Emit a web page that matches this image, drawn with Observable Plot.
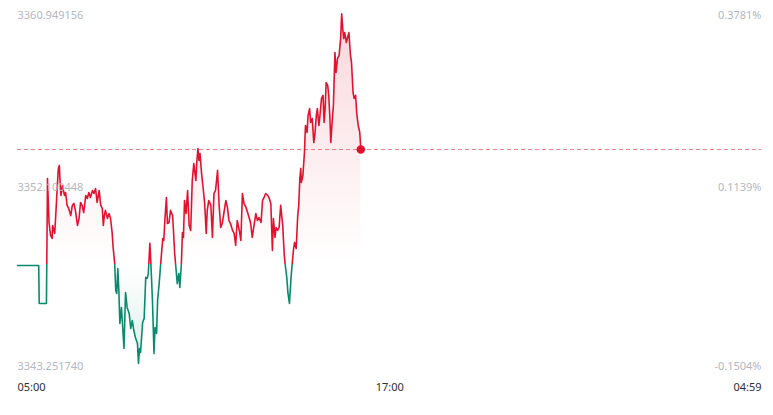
<!DOCTYPE html>
<html>
<head>
<meta charset="utf-8">
<script src="https://cdn.jsdelivr.net/npm/d3@7"></script>
<script src="https://cdn.jsdelivr.net/npm/@observablehq/plot@0.6"></script>
<style>
  html, body { margin: 0; padding: 0; background: #fff; }
  #chart { width: 773px; height: 415px; }
</style>
</head>
<body>
<div id="chart"></div>
<script>
// ---- data ----
const times = ["05:00","05:41","05:42","05:56","05:58","06:01","06:04","06:07","06:08","06:12","06:15","06:17","06:19","06:21","06:22","06:24","06:27","06:28","06:31","06:33","06:36","06:39","06:43","06:46","06:49","06:52","06:56","06:59","07:02","07:05","07:08","07:12","07:15","07:18","07:21","07:25","07:28","07:31","07:34","07:38","07:41","07:44","07:46","07:48","07:50","07:54","07:57","08:00","08:03","08:05","08:08","08:10","08:12","08:14","08:16","08:18","08:21","08:23","08:26","08:29","08:32","08:36","08:39","08:42","08:45","08:48","08:52","08:54","08:56","08:58","09:02","09:05","09:08","09:11","09:13","09:16","09:18","09:21","09:24","09:26","09:29","09:31","09:34","09:37","09:39","09:41","09:43","09:45","09:48","09:50","09:53","09:56","10:00","10:02","10:04","10:06","10:09","10:12","10:14","10:17","10:19","10:21","10:23","10:26","10:29","10:32","10:35","10:38","10:41","10:45","10:47","10:49","10:51","10:53","10:56","10:59","11:02","11:05","11:07","11:10","11:14","11:17","11:20","11:23","11:27","11:30","11:33","11:36","11:40","11:43","11:46","11:49","11:52","11:56","11:59","12:02","12:05","12:09","12:12","12:15","12:18","12:22","12:25","12:28","12:31","12:34","12:38","12:41","12:44","12:47","12:51","12:54","12:57","13:00","13:04","13:07","13:10","13:13","13:15","13:18","13:20","13:23","13:26","13:29","13:33","13:36","13:38","13:41","13:43","13:46","13:49","13:51","13:54","13:56","13:59","14:02","14:04","14:06","14:08","14:09","14:12","14:15","14:17","14:20","14:22","14:25","14:27","14:30","14:33","14:35","14:38","14:40","14:43","14:45","14:48","14:51","14:53","14:55","14:57","15:00","15:02","15:04","15:06","15:09","15:11","15:14","15:16","15:19","15:22","15:25","15:27","15:29","15:31","15:33","15:36","15:38","15:41","15:44","15:46","15:49","15:51","15:54","15:56","15:59","16:02","16:04"];

const prices = [3348.28,3348.28,3346.37,3346.37,3352.65,3350.44,3349.79,3349.64,3350.29,3349.89,
3351.30,3352.30,3353.16,3353.31,3352.65,3351.80,3352.30,3352.15,3351.80,3351.95,
3351.30,3351.15,3350.79,3351.30,3351.40,3351.05,3350.29,3350.64,3351.45,3351.30,
3350.94,3351.80,3351.65,3351.95,3351.70,3352.05,3351.90,3352.15,3351.45,3352.05,
3351.30,3351.15,3350.29,3350.79,3351.05,3350.64,3350.89,3350.64,3349.94,3349.18,
3348.38,3347.02,3346.87,3348.13,3347.02,3345.36,3346.17,3345.36,3344.11,3346.92,
3346.17,3345.87,3345.11,3345.51,3345.01,3344.66,3344.36,3343.35,3344.11,3343.91,
3345.41,3345.62,3347.68,3347.63,3347.88,3349.39,3348.38,3346.52,3343.86,3345.16,
3344.86,3346.52,3347.37,3348.38,3349.03,3349.64,3349.54,3350.54,3351.70,3350.39,
3350.44,3351.05,3350.79,3349.89,3348.88,3348.28,3347.37,3347.88,3347.17,3348.38,
3349.94,3349.69,3351.55,3350.89,3352.05,3350.29,3350.04,3352.55,3353.41,3352.55,
3353.56,3354.16,3353.56,3353.91,3352.91,3352.20,3351.40,3349.89,3351.05,3351.55,
3351.30,3349.69,3351.90,3352.05,3353.06,3351.30,3350.19,3350.39,3351.05,3351.55,
3351.20,3350.54,3350.39,3350.04,3349.89,3349.29,3350.54,3350.04,3349.54,3351.90,
3351.40,3351.20,3350.94,3350.69,3350.39,3349.69,3350.39,3350.89,3350.54,3350.69,
3350.44,3351.55,3351.70,3351.90,3351.80,3351.65,3351.40,3349.03,3350.64,3349.69,
3350.19,3350.04,3350.19,3351.30,3350.29,3348.78,3348.28,3347.63,3346.92,3346.37,
3347.63,3348.28,3349.13,3349.44,3349.13,3350.79,3351.30,3352.65,3353.16,3352.45,
3352.80,3353.96,3355.32,3354.97,3355.82,3356.17,3355.47,3355.67,3354.46,3354.82,
3355.82,3356.17,3355.32,3355.82,3356.68,3356.83,3355.47,3356.17,3357.48,3357.33,
3356.83,3355.82,3354.46,3355.67,3356.32,3358.99,3357.98,3358.69,3358.84,3359.69,
3360.94,3360.20,3359.69,3359.99,3359.49,3359.69,3359.99,3358.84,3358.49,3356.98,
3356.68,3356.83,3355.97,3355.32,3354.97,3354.11];

const prevClose = 3348.289;
const yTickLabels = ["3360.949156", "3352.100448", "3343.251740"];
const pctTickLabels = ["0.3781%", "0.1139%", "-0.1504%"];
const xTickLabels = ["05:00", "17:00", "04:59"];
const sessionStart = "05:00";
const sessionEnd = "04:59"; // next day

// ---- helpers ----
function toDate(hhmm, nextDay) {
  const [h, m] = hhmm.split(":").map(Number);
  return new Date(Date.UTC(2024, 0, nextDay ? 2 : 1, h, m));
}
const n = Math.min(times.length, prices.length);
const data = d3.range(n).map(i => ({ t: toDate(times[i]), p: prices[i] }));
const last = data[data.length - 1];
const t0 = toDate(sessionStart), t1 = toDate(sessionEnd, true);
const xTicks = [t0, toDate(xTickLabels[1]), t1];
const yTicks = yTickLabels.map(Number);

const RED = "#e0132f", GREEN = "#0a8a6c";
const FONT = "'Noto Sans', sans-serif";
const FS = 11;
const LABEL_GRAY = "#b3b7bf";
const DARK = "#2a2e36";

const yLabelDy = [2, -2, 0.5];
const xAnchors = ["start", "middle", "end"];

const yLabelMarks = yTicks.flatMap((v, i) => [
  Plot.text([{ v, label: yTickLabels[i] }], { x: t0, y: "v", text: "label", textAnchor: "start", dy: yLabelDy[i], fill: LABEL_GRAY, fontSize: FS }),
  Plot.text([{ v, label: pctTickLabels[i] }], { x: t1, y: "v", text: "label", textAnchor: "end", dy: yLabelDy[i], fill: LABEL_GRAY, fontSize: FS })
]);
const xLabelMarks = xTicks.map((t, i) =>
  Plot.text([{ t, label: xTickLabels[i] }], { x: "t", y: yTicks[2], text: "label", textAnchor: xAnchors[i], lineAnchor: "middle", dy: 21.5, fill: DARK, fontSize: FS })
);

const chart = Plot.plot({
  width: 773,
  height: 415,
  marginTop: 0, marginRight: 0, marginBottom: 0, marginLeft: 0,
  style: { fontFamily: FONT, fontSize: FS + "px", background: "#fff", overflow: "visible" },
  x: { type: "utc", domain: [t0, t1], range: [17, 761], axis: null },
  y: { domain: [yTicks[2], yTicks[0]], range: [365, 13], axis: null },
  marks: [
    Plot.areaY(data, { x: "t", y1: prevClose, y2: "p", fill: "url(#areaGrad)" }),
    Plot.ruleY([{ y: last.p, x1: t0, x2: t1 }], { y: "y", x1: "x1", x2: "x2", stroke: "#ee5565", strokeOpacity: 0.75, strokeWidth: 1, strokeDasharray: "4,3" }),
    Plot.line(data, { x: "t", y: "p", stroke: "url(#lineGrad)", strokeWidth: 1.6 }),
    Plot.dot([last], { x: "t", y: "p", r: 3.5, fill: RED, stroke: RED }),
    ...yLabelMarks,
    ...xLabelMarks
  ]
});

document.getElementById("chart").appendChild(chart);

// gradients (red above previous close, green below)
const ys = chart.scale("y");
const yTop = 13, yBot = 365;
const yBase = ys.apply(prevClose) - 1;
const off = (yBase - yTop) / (yBot - yTop);
const defs = d3.select(chart).insert("defs", ":first-child");
const lg = defs.append("linearGradient").attr("id", "lineGrad")
  .attr("gradientUnits", "userSpaceOnUse").attr("x1", 0).attr("x2", 0).attr("y1", yTop).attr("y2", yBot);
lg.append("stop").attr("offset", 0).attr("stop-color", RED);
lg.append("stop").attr("offset", off).attr("stop-color", RED);
lg.append("stop").attr("offset", off).attr("stop-color", GREEN);
lg.append("stop").attr("offset", 1).attr("stop-color", GREEN);
const ag = defs.append("linearGradient").attr("id", "areaGrad")
  .attr("gradientUnits", "userSpaceOnUse").attr("x1", 0).attr("x2", 0).attr("y1", yTop).attr("y2", yBot);
ag.append("stop").attr("offset", 0).attr("stop-color", RED).attr("stop-opacity", 0.17);
ag.append("stop").attr("offset", off).attr("stop-color", RED).attr("stop-opacity", 0.0);
ag.append("stop").attr("offset", off).attr("stop-color", GREEN).attr("stop-opacity", 0.0);
ag.append("stop").attr("offset", 1).attr("stop-color", GREEN).attr("stop-opacity", 0.14);
</script>
</body>
</html>
